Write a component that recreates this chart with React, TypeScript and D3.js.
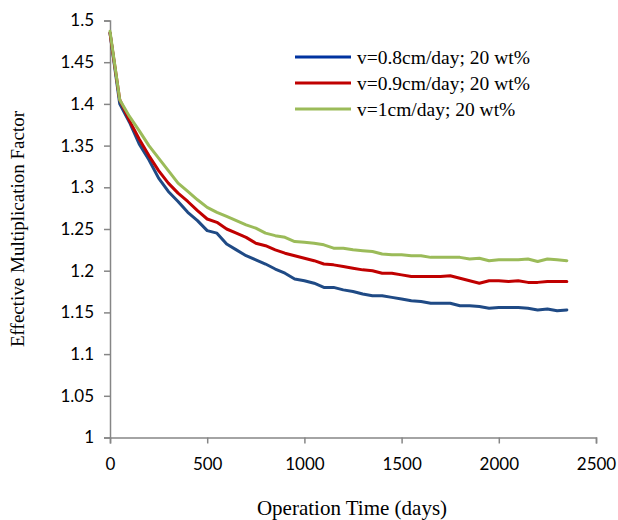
import React, { useEffect, useRef } from "react";
import * as d3 from "d3";

const W = 618;
const H = 520;

const days = [
  0, 50, 100, 150, 200, 250, 300, 350, 400, 450, 500, 550, 600, 650, 700, 750,
  800, 850, 900, 950, 1000, 1050, 1100, 1150, 1200, 1250, 1300, 1350, 1400,
  1450, 1500, 1550, 1600, 1650, 1700, 1750, 1800, 1850, 1900, 1950, 2000,
  2050, 2100, 2150, 2200, 2250, 2300, 2350,
];

const kBlue = [
  1.485, 1.4, 1.378, 1.352, 1.333, 1.311, 1.295, 1.283, 1.27, 1.26, 1.248,
  1.245, 1.232, 1.225, 1.218, 1.213, 1.208, 1.202, 1.197, 1.19, 1.188, 1.185,
  1.18, 1.18, 1.177, 1.175, 1.172, 1.17, 1.17, 1.168, 1.166, 1.164, 1.163,
  1.161, 1.161, 1.161, 1.158, 1.158, 1.157, 1.155, 1.156, 1.156, 1.156, 1.155,
  1.153, 1.154, 1.152, 1.153,
];

const kRed = [
  1.485, 1.405, 1.38, 1.358, 1.338, 1.32, 1.305, 1.293, 1.283, 1.272, 1.262,
  1.258, 1.25, 1.245, 1.24, 1.233, 1.23, 1.225, 1.221, 1.218, 1.215, 1.212,
  1.208, 1.207, 1.205, 1.203, 1.201, 1.2, 1.197, 1.197, 1.195, 1.193, 1.193,
  1.193, 1.193, 1.194, 1.191, 1.188, 1.185, 1.188, 1.188, 1.187, 1.188, 1.186,
  1.186, 1.187, 1.187, 1.187,
];

const kGreen = [
  1.487, 1.405, 1.385, 1.368, 1.35, 1.335, 1.32, 1.305, 1.295, 1.285, 1.276,
  1.27, 1.265, 1.26, 1.255, 1.251, 1.245, 1.242, 1.24, 1.235, 1.234, 1.233,
  1.231, 1.227, 1.227, 1.225, 1.224, 1.223, 1.22, 1.219, 1.219, 1.218, 1.218,
  1.216, 1.216, 1.216, 1.216, 1.214, 1.215, 1.212, 1.213, 1.213, 1.213, 1.214,
  1.211, 1.214, 1.213, 1.212,
];

const seriesNames = [
  "v=0.8cm/day; 20 wt%",
  "v=0.9cm/day; 20 wt%",
  "v=1cm/day; 20 wt%",
];
const lineColors = ["#1F4A85", "#C00000", "#9BBB59"];
const legendColors = ["#0033A0", "#C00000", "#9BBB59"];

const xTicks = [0, 500, 1000, 1500, 2000, 2500];
const yTicks = [1, 1.05, 1.1, 1.15, 1.2, 1.25, 1.3, 1.35, 1.4, 1.45, 1.5];

const serif = "'Liberation Serif', 'Times New Roman', serif";
const sans = "Lato, 'Open Sans', sans-serif";

export default function App() {
  const ref = useRef<SVGSVGElement>(null);

  useEffect(() => {
    const svg = d3.select(ref.current);
    svg.selectAll("*").remove();

    const x = d3.scaleLinear().domain([0, 2500]).range([110, 596]);
    const y = d3.scaleLinear().domain([1, 1.5]).range([437.5, 20.5]);

    // y axis
    const yAxis = svg
      .append("g")
      .attr("transform", "translate(110,0)")
      .call(
        d3
          .axisLeft(y)
          .tickValues(yTicks)
          .tickSize(6)
          .tickPadding(10)
          .tickFormat((d) => String(d))
      );
    yAxis.select(".domain").attr("stroke", "#868686").attr("stroke-width", 1.5);
    yAxis.selectAll(".tick line").attr("stroke", "#868686").attr("stroke-width", 1.5);
    yAxis
      .selectAll(".tick text")
      .attr("fill", "#000")
      .style("font-family", sans)
      .style("font-size", "17px");

    // x axis
    const xAxis = svg
      .append("g")
      .attr("transform", "translate(0,437.5)")
      .call(
        d3
          .axisBottom(x)
          .tickValues(xTicks)
          .tickSize(6)
          .tickPadding(14)
          .tickFormat((d) => String(d))
      );
    xAxis.select(".domain").attr("stroke", "#868686").attr("stroke-width", 1.5);
    xAxis.selectAll(".tick line").attr("stroke", "#868686").attr("stroke-width", 1.5);
    xAxis
      .selectAll(".tick text")
      .attr("fill", "#000")
      .style("font-family", sans)
      .style("font-size", "17px");

    // lines
    const line = d3
      .line<number>()
      .x((_, i) => x(days[i]))
      .y((d) => y(d));

    [kBlue, kRed, kGreen].forEach((s, i) => {
      svg
        .append("path")
        .datum(s)
        .attr("d", line)
        .attr("fill", "none")
        .attr("stroke", lineColors[i])
        .attr("stroke-width", 3)
        .attr("stroke-linejoin", "round")
        .attr("stroke-linecap", "round");
    });

    // legend
    const legend = svg
      .selectAll(".legend")
      .data(seriesNames)
      .enter()
      .append("g")
      .attr("class", "legend")
      .attr("transform", (d, i) => "translate(295," + (57 + i * 26) + ")");
    legend
      .append("line")
      .attr("x1", 0)
      .attr("x2", 56)
      .attr("stroke", (d, i) => legendColors[i])
      .attr("stroke-width", 3);
    legend
      .append("text")
      .text((d) => d)
      .attr("x", 62)
      .attr("y", 6.5)
      .style("font-family", serif)
      .style("font-size", "19.5px");

    // axis titles
    svg
      .append("text")
      .text("Effective Multiplication Factor")
      .attr("text-anchor", "middle")
      .attr("transform", "translate(24,229) rotate(-90)")
      .style("font-family", serif)
      .style("font-size", "19px");
    svg
      .append("text")
      .text("Operation Time (days)")
      .attr("text-anchor", "middle")
      .attr("x", 352)
      .attr("y", 515)
      .style("font-family", serif)
      .style("font-size", "21px");
  }, []);

  return (
    <svg
      ref={ref}
      width={W}
      height={H}
      style={{ position: "absolute", left: 0, top: 0, background: "#fff" }}
    />
  );
}
